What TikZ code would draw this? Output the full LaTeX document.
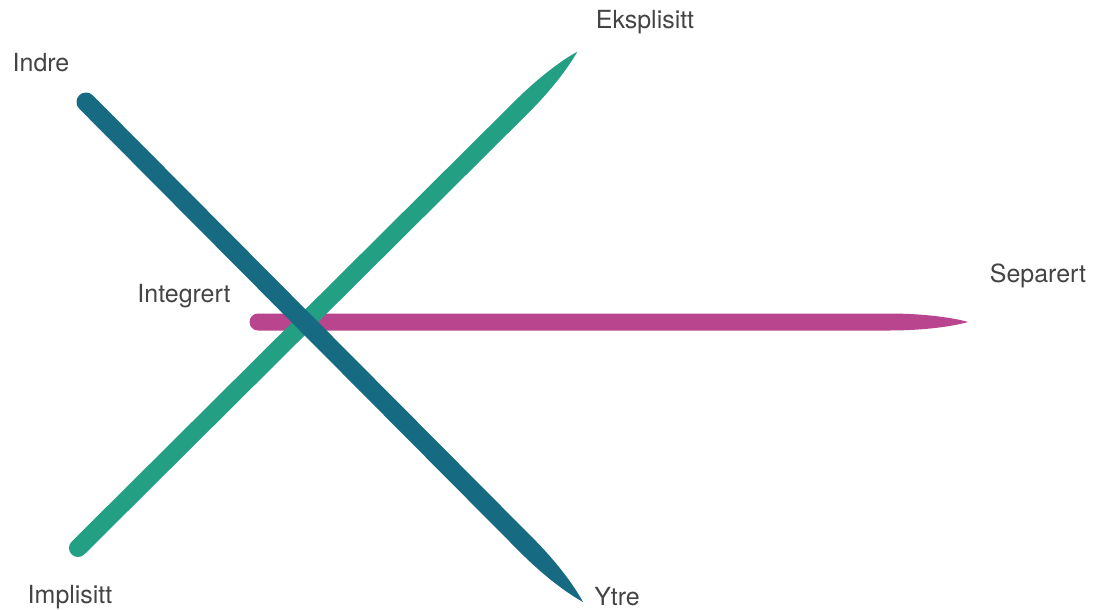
\documentclass[tikz,border=0pt]{standalone}
\usepackage{fontspec}
\setmainfont{TeX Gyre Heros}
\usepackage{tikz}
\definecolor{strokeBlue}{RGB}{22,107,130}
\definecolor{strokeGreen}{RGB}{35,160,131}
\definecolor{strokePink}{RGB}{185,69,142}
\definecolor{labelGrey}{RGB}{68,68,68}

\begin{document}
\begin{tikzpicture}[
    x=0.02cm, y=0.02cm,
    axisLabel/.style={font=\fontsize{14.2}{17}\selectfont, text=labelGrey, inner sep=0pt}
]

\useasboundingbox (0,0) rectangle (1094,-609);

% ================= PINK STROKE (bottom) =================
\begin{scope}[shift={(258,-322)}]
    \fill[strokePink] (0,8.5) -- (630,8.5) .. controls (672,8.5) and (700,3) .. (710,0)
        .. controls (700,-3) and (672,-8.5) .. (630,-8.5) -- (0,-8.5)
        arc[start angle=270, end angle=90, radius=8.5] -- cycle;
\end{scope}

% ================= GREEN STROKE =================
\begin{scope}[shift={(78,-548)}, rotate=44.83]
    \fill[strokeGreen] (0,9) -- (625,9) .. controls (666,9) and (694,3) .. (704,0)
        .. controls (694,-3) and (666,-9) .. (625,-9) -- (0,-9)
        arc[start angle=270, end angle=90, radius=9] -- cycle;
\end{scope}

% ================= BLUE STROKE (top) =================
\begin{scope}[shift={(86,-102)}, rotate=-45.17]
    \fill[strokeBlue] (0,9.5) -- (625,9.5) .. controls (667,9.5) and (695,3) .. (705,0)
        .. controls (695,-3) and (667,-9.5) .. (625,-9.5) -- (0,-9.5)
        arc[start angle=270, end angle=90, radius=9.5] -- cycle;
\end{scope}

% ================= LABELS =================
\node[axisLabel] (indre) at (41,-63) {Indre};
\node[axisLabel] (eksplisitt) at (645,-22) {Eksplisitt};
\node[axisLabel] (separert) at (1038,-276) {Separert};
\node[axisLabel] (integrert) at (184,-296) {Integrert};
\node[axisLabel] (implisitt) at (70,-597) {Implisitt};
\node[axisLabel] (ytre) at (617,-597) {Ytre};

\end{tikzpicture}
\end{document}
